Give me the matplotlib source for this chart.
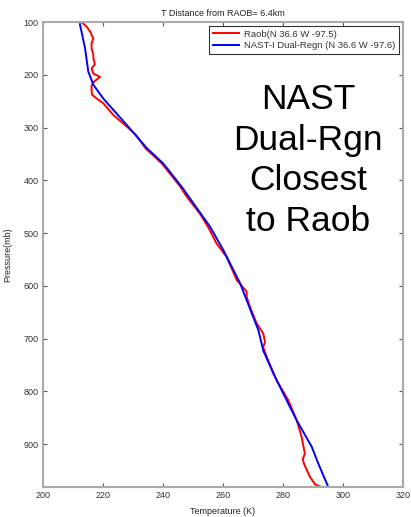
import numpy as np
import matplotlib
matplotlib.use('Agg')
import matplotlib.pyplot as plt

plt.rcParams['font.family'] = ['Liberation Sans', 'DejaVu Sans']

# Raob profile (pressure mb, temperature K)
p_raob = [102, 109, 121, 125, 131, 140, 150, 163, 169, 180, 188, 198, 204, 213, 220,
          232, 238, 245, 254, 276, 298, 314, 340, 368, 412, 431, 463, 488, 520, 545,
          589, 611, 621, 640, 671, 690, 706, 716, 735, 779, 817, 855, 886, 918, 928,
          937, 962, 976, 980]
t_raob = [213.2, 214.6, 216.0, 216.2, 216.8, 216.2, 216.2, 216.8, 216.8, 217.3, 216.2,
          216.8, 219.0, 217.0, 216.2, 216.2, 216.4, 217.9, 220.1, 223.4, 227.9, 231.0,
          234.3, 239.6, 245.8, 247.9, 252.3, 255.0, 257.9, 261.2, 264.6, 267.9, 267.9,
          269.0, 271.2, 273.4, 274.0, 273.4, 274.6, 277.9, 281.8, 284.6, 286.2, 287.3,
          286.6, 287.0, 289.0, 290.7, 292.3]

# NAST-I dual regression retrieval
p_nast = [104, 149, 194, 219, 245, 295, 339, 368, 412, 488, 532, 595, 684, 722, 766,
          804, 855, 905, 937, 981]
t_nast = [212.3, 214.0, 215.1, 216.8, 220.1, 227.9, 234.6, 240.1, 246.2, 255.7, 260.1,
          265.7, 271.8, 273.4, 276.8, 280.1, 284.6, 289.6, 291.8, 295.1]

xticks = np.arange(200, 321, 20)
yticks = np.arange(100, 901, 100)

fig = plt.figure(figsize=(4.11, 5.17), dpi=100)
ax = fig.add_axes([0.1046, 0.058, 0.8759, 0.8994])

ax.plot(t_raob, p_raob, color='red', lw=1.4, label='Raob(N 36.6 W -97.5)')
ax.plot(t_nast, p_nast, color='blue', lw=1.4, label='NAST-I Dual-Regn (N 36.6 W -97.6)')

ax.set_xlim(200, 320)
ax.set_ylim(981, 100)
ax.set_xticks(xticks)
ax.set_yticks(yticks)
ax.tick_params(direction='in', length=3, width=0.8, color='#555555', labelsize=6.5,
               labelcolor='#333333', top=True, right=True, pad=3)
for s in ax.spines.values():
    s.set_color('#aaaaaa')
    s.set_linewidth(1.5)

ax.set_title('T Distance from RAOB= 6.4km', fontsize=6.5, color='#222222', pad=4)
ax.set_xlabel('Temperature (K)', fontsize=6.5, color='#222222', labelpad=5)
ax.set_ylabel('Pressure(mb)', fontsize=6.5, color='#222222', labelpad=8)

leg = ax.legend(loc='upper right', fontsize=6.8, fancybox=False, framealpha=1,
                borderpad=0.4, handlelength=2.8, labelspacing=0.25,
                borderaxespad=0.4, handletextpad=0.5)
leg.get_frame().set_edgecolor('#333333')
leg.get_frame().set_linewidth(0.8)
for t in leg.get_texts():
    t.set_color('#333333')

ax.text(0.736, 0.702, 'NAST\nDual-Rgn\nClosest\nto Raob', transform=ax.transAxes,
        fontsize=25.5, ha='center', va='center', linespacing=1.3, color='black')

fig.savefig('out.png', dpi=100)
